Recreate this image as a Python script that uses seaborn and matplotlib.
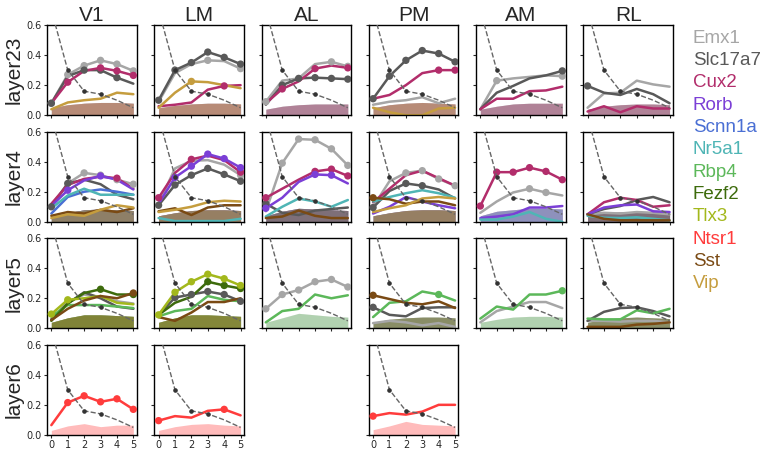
import numpy as np
import pandas as pd
import matplotlib.pyplot as plt
import seaborn as sns

xs = [0, 1, 2, 3, 4, 5]
areas = ["V1", "LM", "AL", "PM", "AM", "RL"]
layers = ["layer23", "layer4", "layer5", "layer6"]

cre_lines = ["Emx1", "Slc17a7", "Cux2", "Rorb", "Scnn1a", "Nr5a1",
             "Rbp4", "Fezf2", "Tlx3", "Ntsr1", "Sst", "Vip"]
cre_colors = ["#a6a6a6", "#595959", "#b22d6b", "#7b3fd6", "#4a6fd4", "#4fb5b5",
              "#5cb85a", "#3d6b0c", "#a3b81c", "#ff3c3c", "#7a4a14", "#c59d3e"]

# dashed reference curve (same in every panel)
ref_curve = [0.7, 0.3, 0.16, 0.14, 0.10, 0.05]

l23_vals = {
    "V1": {"Emx1": [0.08, 0.27, 0.33, 0.365, 0.34, 0.295],
           "Slc17a7": [0.08, 0.26, 0.30, 0.30, 0.25, 0.21],
           "Cux2": [0.08, 0.22, 0.295, 0.315, 0.295, 0.265],
           "Vip": [0.04, 0.085, 0.10, 0.11, 0.15, 0.14]},
    "LM": {"Emx1": [0.09, 0.28, 0.34, 0.365, 0.36, 0.31],
           "Slc17a7": [0.10, 0.30, 0.35, 0.42, 0.385, 0.34],
           "Cux2": [0.06, 0.07, 0.085, 0.17, 0.195, 0.20],
           "Vip": [0.05, 0.15, 0.225, 0.22, 0.20, 0.18]},
    "AL": {"Emx1": [0.09, 0.23, 0.245, 0.34, 0.355, 0.325],
           "Slc17a7": [0.07, 0.20, 0.245, 0.25, 0.245, 0.24],
           "Cux2": [0.08, 0.175, 0.225, 0.31, 0.33, 0.315]},
    "PM": {"Emx1": [0.07, 0.09, 0.10, 0.12, 0.08, 0.11],
           "Slc17a7": [0.11, 0.26, 0.365, 0.43, 0.41, 0.355],
           "Cux2": [0.11, 0.135, 0.20, 0.28, 0.30, 0.30],
           "Vip": [0.05, 0.02, 0.0, 0.0, 0.045, 0.05]},
    "AM": {"Emx1": [0.04, 0.23, 0.245, 0.255, 0.265, 0.26],
           "Slc17a7": [0.04, 0.15, 0.195, 0.245, 0.265, 0.295],
           "Cux2": [0.04, 0.11, 0.11, 0.16, 0.165, 0.19]},
    "RL": {"Emx1": [0.05, 0.145, 0.15, 0.23, 0.205, 0.19],
           "Slc17a7": [0.195, 0.15, 0.135, 0.175, 0.14, 0.08],
           "Cux2": [0.025, 0.06, 0.02, 0.06, 0.045, 0.045]},
}
l23_dots = {
    "V1": {"Emx1": [0, 1, 2, 3, 4, 5], "Slc17a7": [0, 2, 3, 4], "Cux2": [1, 3, 4, 5]},
    "LM": {"Emx1": [3, 5], "Slc17a7": [0, 1, 2, 3, 4, 5], "Cux2": [4], "Vip": [2]},
    "AL": {"Emx1": [0, 4, 5], "Slc17a7": [1, 2, 3, 4, 5], "Cux2": [1, 3, 5]},
    "PM": {"Slc17a7": [0, 1, 2, 3, 4, 5], "Cux2": [4, 5]},
    "AM": {"Emx1": [1, 5], "Slc17a7": [5]},
    "RL": {"Slc17a7": [0]},
}
l23_shade = {
    "V1": [0.05, 0.07, 0.08, 0.085, 0.085, 0.08],
    "LM": [0.05, 0.065, 0.075, 0.08, 0.08, 0.075],
    "AL": [0.04, 0.06, 0.07, 0.075, 0.075, 0.075],
    "PM": [0.05, 0.07, 0.08, 0.085, 0.08, 0.075],
    "AM": [0.04, 0.06, 0.075, 0.08, 0.08, 0.08],
    "RL": [0.04, 0.06, 0.07, 0.075, 0.075, 0.07],
}

l4_vals = {
    "V1": {"Emx1": [0.11, 0.255, 0.325, 0.31, 0.28, 0.25],
           "Slc17a7": [0.10, 0.255, 0.28, 0.25, 0.18, 0.15],
           "Cux2": [0.12, 0.245, 0.285, 0.30, 0.29, 0.22],
           "Rorb": [0.105, 0.21, 0.275, 0.305, 0.28, 0.215],
           "Scnn1a": [0.055, 0.165, 0.20, 0.215, 0.20, 0.18],
           "Nr5a1": [0.09, 0.175, 0.22, 0.18, 0.18, 0.18],
           "Sst": [0.04, 0.065, 0.055, 0.08, 0.065, 0.09],
           "Vip": [0.025, 0.05, 0.04, 0.08, 0.11, 0.095]},
    "LM": {"Emx1": [0.12, 0.355, 0.405, 0.41, 0.38, 0.31],
           "Slc17a7": [0.11, 0.245, 0.31, 0.355, 0.315, 0.27],
           "Cux2": [0.16, 0.325, 0.415, 0.44, 0.41, 0.33],
           "Rorb": [0.12, 0.295, 0.37, 0.45, 0.42, 0.36],
           "Nr5a1": [0.025, 0.005, 0.005, 0.005, 0.005, 0.02],
           "Sst": [0.07, 0.09, 0.045, 0.095, 0.11, 0.11],
           "Vip": [0.065, 0.08, 0.10, 0.13, 0.14, 0.135]},
    "AL": {"Emx1": [0.07, 0.39, 0.55, 0.545, 0.485, 0.375],
           "Slc17a7": [0.12, 0.06, 0.045, 0.075, 0.085, 0.095],
           "Cux2": [0.16, 0.22, 0.28, 0.335, 0.35, 0.305],
           "Rorb": [0.09, 0.16, 0.265, 0.315, 0.31, 0.255],
           "Nr5a1": [0.035, 0.10, 0.155, 0.135, 0.10, 0.145],
           "Sst": [0.025, 0.035, 0.075, 0.04, 0.025, 0.025]},
    "PM": {"Emx1": [0.10, 0.27, 0.325, 0.34, 0.285, 0.24],
           "Slc17a7": [0.095, 0.205, 0.255, 0.24, 0.215, 0.155],
           "Cux2": [0.13, 0.22, 0.31, 0.34, 0.29, 0.24],
           "Rorb": [0.055, 0.10, 0.165, 0.135, 0.11, 0.09],
           "Nr5a1": [0.135, 0.165, 0.19, 0.21, 0.19, 0.16],
           "Sst": [0.16, 0.15, 0.12, 0.135, 0.135, 0.11],
           "Vip": [0.065, 0.09, 0.11, 0.155, 0.165, 0.155]},
    "AM": {"Emx1": [0.06, 0.135, 0.195, 0.22, 0.195, 0.175],
           "Cux2": [0.105, 0.33, 0.33, 0.36, 0.335, 0.28],
           "Rorb": [0.025, 0.035, 0.05, 0.095, 0.095, 0.105],
           "Nr5a1": [0.015, 0.015, 0.035, 0.065, 0.02, 0.0]},
    "RL": {"Emx1": [0.05, 0.06, 0.055, 0.065, 0.06, 0.05],
           "Slc17a7": [0.05, 0.085, 0.105, 0.145, 0.165, 0.13],
           "Cux2": [0.05, 0.13, 0.16, 0.145, 0.10, 0.11],
           "Rorb": [0.05, 0.095, 0.11, 0.115, 0.07, 0.065],
           "Nr5a1": [0.04, 0.027, 0.025, 0.03, 0.02, 0.01],
           "Sst": [0.05, 0.02, 0.01, 0.01, 0.01, 0.01]},
}
l4_dots = {
    "V1": {"Emx1": [2, 3, 4, 5], "Slc17a7": [0, 1], "Cux2": [4], "Rorb": [1, 3]},
    "LM": {"Emx1": [5], "Slc17a7": [0, 1, 2, 3, 4, 5], "Cux2": [0, 2, 5], "Rorb": [1, 2, 3, 4, 5]},
    "AL": {"Emx1": [1, 2, 3, 4, 5], "Slc17a7": [0], "Cux2": [0, 3, 4, 5], "Rorb": [0, 3, 4]},
    "PM": {"Emx1": [2, 3, 4, 5], "Slc17a7": [0, 2, 3], "Sst": [0]},
    "AM": {"Emx1": [3, 4], "Cux2": [0, 1, 2, 3, 4, 5]},
    "RL": {},
}
l4_shade = {
    "V1": [0.04, 0.06, 0.08, 0.085, 0.08, 0.075],
    "LM": [0.04, 0.06, 0.075, 0.08, 0.08, 0.075],
    "AL": [0.04, 0.07, 0.09, 0.085, 0.08, 0.075],
    "PM": [0.04, 0.06, 0.075, 0.08, 0.08, 0.075],
    "AM": [0.04, 0.07, 0.08, 0.09, 0.09, 0.085],
    "RL": [0.05, 0.06, 0.065, 0.07, 0.065, 0.06],
}

l5_vals = {
    "V1": {"Emx1": [0.06, 0.175, 0.225, 0.21, 0.18, 0.165],
           "Slc17a7": [0.06, 0.165, 0.24, 0.20, 0.145, 0.13],
           "Rbp4": [0.08, 0.155, 0.155, 0.155, 0.145, 0.135],
           "Fezf2": [0.05, 0.165, 0.235, 0.26, 0.225, 0.225],
           "Tlx3": [0.095, 0.19, 0.20, 0.215, 0.17, 0.16],
           "Sst": [0.055, 0.13, 0.185, 0.215, 0.20, 0.235]},
    "LM": {"Slc17a7": [0.09, 0.205, 0.225, 0.245, 0.225, 0.18],
           "Rbp4": [0.08, 0.115, 0.13, 0.215, 0.19, 0.18],
           "Fezf2": [0.09, 0.17, 0.21, 0.31, 0.285, 0.265],
           "Tlx3": [0.09, 0.24, 0.31, 0.36, 0.33, 0.285],
           "Sst": [0.075, 0.05, 0.105, 0.175, 0.175, 0.20]},
    "AL": {"Emx1": [0.13, 0.225, 0.255, 0.31, 0.325, 0.275],
           "Rbp4": [0.04, 0.115, 0.13, 0.225, 0.20, 0.22]},
    "PM": {"Emx1": [0.035, 0.05, 0.04, 0.02, 0.035, 0.01],
           "Slc17a7": [0.14, 0.09, 0.08, 0.135, 0.14, 0.14],
           "Rbp4": [0.075, 0.17, 0.18, 0.245, 0.225, 0.185],
           "Sst": [0.22, 0.195, 0.17, 0.16, 0.18, 0.135]},
    "AM": {"Emx1": [0.04, 0.115, 0.145, 0.175, 0.175, 0.135],
           "Rbp4": [0.065, 0.145, 0.125, 0.225, 0.225, 0.25]},
    "RL": {"Emx1": [0.05, 0.05, 0.045, 0.05, 0.05, 0.04],
           "Slc17a7": [0.05, 0.11, 0.135, 0.14, 0.115, 0.08],
           "Rbp4": [0.065, 0.06, 0.06, 0.12, 0.10, 0.13],
           "Sst": [0.01, 0.01, 0.01, 0.025, 0.03, 0.04]},
}
l5_dots = {
    "V1": {"Fezf2": [3, 5], "Tlx3": [0, 1], "Sst": [5]},
    "LM": {"Slc17a7": [1, 2, 3, 4, 5], "Fezf2": [3, 4, 5], "Tlx3": [0, 1, 2, 3, 4, 5]},
    "AL": {"Emx1": [0, 1, 2, 3, 4, 5]},
    "PM": {"Slc17a7": [0], "Rbp4": [4], "Sst": [0]},
    "AM": {"Rbp4": [5]},
    "RL": {},
}
l5_shade = {
    "V1": [0.04, 0.07, 0.09, 0.09, 0.085, 0.08],
    "LM": [0.04, 0.07, 0.09, 0.09, 0.085, 0.08],
    "AL": [0.04, 0.07, 0.10, 0.09, 0.08, 0.075],
    "PM": [0.04, 0.06, 0.07, 0.075, 0.075, 0.07],
    "AM": [0.04, 0.06, 0.075, 0.08, 0.08, 0.075],
    "RL": [0.04, 0.06, 0.07, 0.075, 0.07, 0.065],
}

l6_vals = {
    "V1": {"Ntsr1": [0.065, 0.215, 0.26, 0.22, 0.24, 0.17]},
    "LM": {"Ntsr1": [0.095, 0.125, 0.115, 0.16, 0.17, 0.13]},
    "PM": {"Ntsr1": [0.125, 0.145, 0.135, 0.155, 0.20, 0.20]},
}
l6_dots = {
    "V1": {"Ntsr1": [1, 2, 3, 4, 5]},
    "LM": {"Ntsr1": [0, 4]},
    "PM": {"Ntsr1": [0]},
}
l6_shade = {
    "V1": [0.03, 0.06, 0.075, 0.055, 0.065, 0.065],
    "LM": [0.03, 0.055, 0.07, 0.075, 0.065, 0.06],
    "PM": [0.035, 0.06, 0.09, 0.07, 0.065, 0.06],
}

all_vals = [l23_vals, l4_vals, l5_vals, l6_vals]
all_dots = [l23_dots, l4_dots, l5_dots, l6_dots]
all_shade = [l23_shade, l4_shade, l5_shade, l6_shade]
palette = dict(zip(cre_lines, cre_colors))

rows = []
for layer, vals, dots in zip(layers, all_vals, all_dots):
    for area, lines in vals.items():
        for cre, ys in lines.items():
            sig = dots.get(area, {}).get(cre, [])
            for x, y in zip(xs, ys):
                rows.append({"layer": layer, "area": area, "cre": cre,
                             "x": x, "value": y, "sig": x in sig})
df = pd.DataFrame(rows)

sns.set_style("ticks")
plt.rcParams['font.family'] = ['DejaVu Sans']
label_font = ['Liberation Sans', 'DejaVu Sans']

fig, axes = plt.subplots(4, 6, figsize=(7.62, 4.54), dpi=100, sharex=True, sharey=True)
fig.subplots_adjust(left=0.062, right=0.883, top=0.945, bottom=0.042, wspace=0.2, hspace=0.18)

for i, layer in enumerate(layers):
    for j, area in enumerate(areas):
        ax = axes[i, j]
        sub = df[(df.layer == layer) & (df.area == area)]
        if i == 0:
            ax.set_title(area, fontsize=15, pad=3, family=label_font)
        if sub.empty:
            ax.axis("off")
            continue

        shade = all_shade[i][area]
        for cre in sub.cre.unique():
            ax.fill_between(xs, 0, shade, color=palette[cre], alpha=0.35, lw=0)

        sns.lineplot(data=sub, x="x", y="value", hue="cre", palette=palette,
                     lw=1.8, legend=False, ax=ax)
        sns.scatterplot(data=sub[sub.sig], x="x", y="value", hue="cre", palette=palette,
                        s=28, edgecolor="none", legend=False, ax=ax, zorder=3)

        ax.plot(xs, ref_curve, "--", color="#666666", lw=1, zorder=4)
        ax.plot(xs[1:4], ref_curve[1:4], "o", color="#333333", ms=2.3, zorder=4)

        ax.set_xlim(-0.25, 5.2)
        ax.set_ylim(0, 0.6)
        ax.set_xticks(xs)
        ax.set_yticks([0, 0.2, 0.4, 0.6])
        ax.tick_params(labelsize=7, length=2.5, pad=1.5)
        ax.set_xlabel("")
        ax.set_ylabel(layer if j == 0 else "", fontsize=15, labelpad=2, family=label_font)
        for s in ax.spines.values():
            s.set_linewidth(1)
            s.set_color("black")

# legend as colored text
for k, (name, c) in enumerate(zip(cre_lines, cre_colors)):
    fig.text(0.909, 0.916 - k * 0.0492, name, color=c, fontsize=13.5, va="center",
             family=label_font)

plt.savefig("out.png", dpi=100)
